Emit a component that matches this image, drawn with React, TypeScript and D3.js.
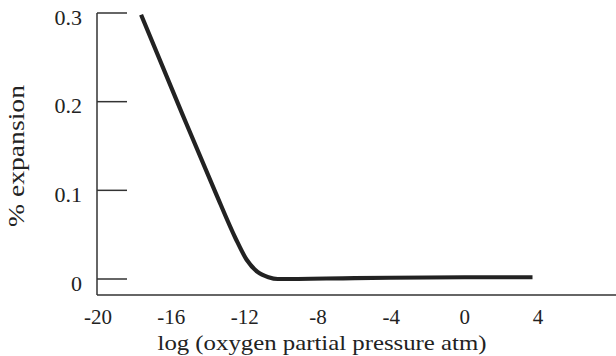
import React from "react";
import * as d3 from "d3";

const logPO2 = [-17.65, -15.4, -13.6, -12.5, -11.9, -11.3, -10.7, -10.2, -6, 0, 3.7];
const expansion = [0.298, 0.186, 0.098, 0.046, 0.022, 0.008, 0.002, 0.0, 0.001, 0.002, 0.002];
const xTicks = [-20, -16, -12, -8, -4, 0, 4];
const yTicks = [0, 0.1, 0.2, 0.3];
const yTickLabels = ["0", "0.1", "0.2", "0.3"];

const W = 616;
const H = 356;
const FONT = "Liberation Serif";

export default function App() {
  const x = d3.scaleLinear().domain([-20, 4]).range([98, 538]);
  const y = d3.scaleLinear().domain([0, 0.3]).range([279, 13]);
  const axisX = 97;
  const axisY = 295;
  const pts: [number, number][] = logPO2.map((v, i) => [v, expansion[i]]);
  const line = d3
    .line<[number, number]>()
    .x((d) => x(d[0]))
    .y((d) => y(d[1]))
    .curve(d3.curveMonotoneX);

  return (
    <svg width={W} height={H} style={{ position: "absolute", left: 0, top: 0, background: "#fff" }}>
      <rect x={0} y={0} width={W} height={H} fill="#fff" />
      {/* axes */}
      <line x1={axisX} y1={y(0.3)} x2={axisX} y2={axisY} stroke="#333" strokeWidth={1.5} />
      <line x1={axisX} y1={axisY} x2={W} y2={axisY} stroke="#333" strokeWidth={1.5} />
      {/* y ticks */}
      {yTicks.map((t, i) => (
        <g key={t}>
          <line x1={axisX} x2={axisX + 30} y1={y(t)} y2={y(t)} stroke="#333" strokeWidth={1.5} />
          <text
            x={82}
            y={y(t) + 4}
            textAnchor="end"
            dominantBaseline="central"
            style={{ fontFamily: FONT }}
            fontSize={22}
            fill="#222"
          >
            {yTickLabels[i]}
          </text>
        </g>
      ))}
      {/* x tick labels */}
      {xTicks.map((t) => (
        <text
          key={t}
          x={x(t)}
          y={324}
          textAnchor="middle"
          style={{ fontFamily: FONT }}
          fontSize={21}
          fill="#222"
        >
          {t}
        </text>
      ))}
      {/* titles */}
      <text
        x={322}
        y={350}
        textAnchor="middle"
        style={{ fontFamily: FONT }}
        fontSize={21}
        fill="#222"
        textLength={329}
        lengthAdjust="spacingAndGlyphs"
      >
        log (oxygen partial pressure atm)
      </text>
      <text
        transform={`translate(24, 156) rotate(-90)`}
        textAnchor="middle"
        style={{ fontFamily: FONT }}
        fontSize={23}
        fill="#222"
        textLength={142}
        lengthAdjust="spacingAndGlyphs"
      >
        % expansion
      </text>
      {/* curve */}
      <path d={line(pts) || ""} fill="none" stroke="#222" strokeWidth={4.2} strokeLinejoin="round" />
    </svg>
  );
}
